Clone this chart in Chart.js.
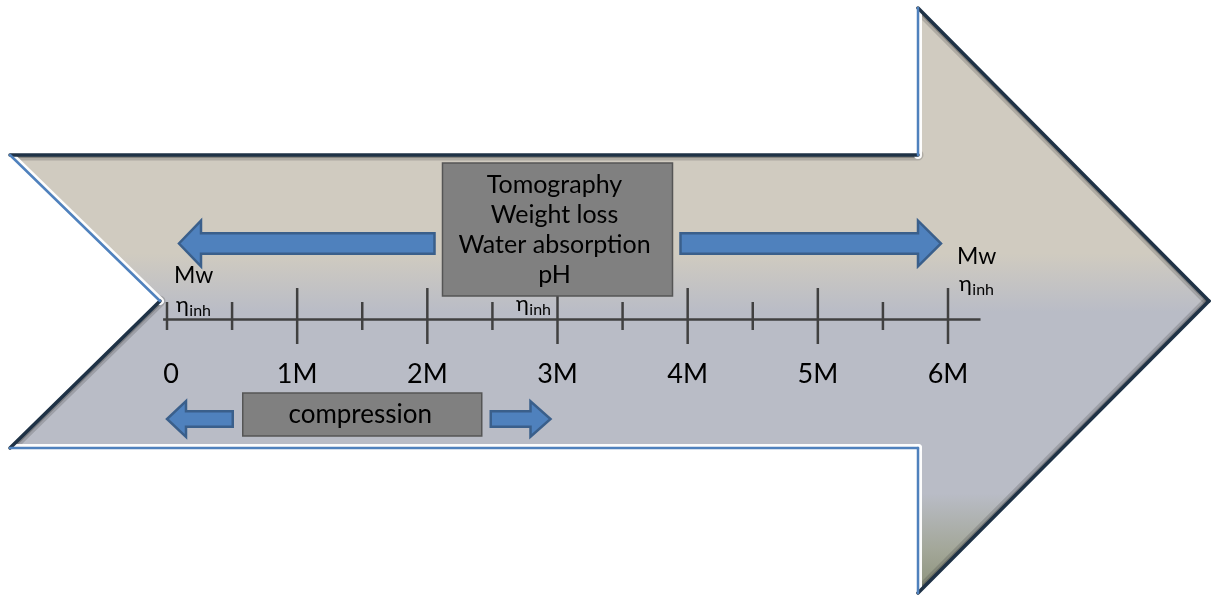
<!DOCTYPE html>
<html>
<head>
<meta charset="utf-8">
<title>Degradation tests timeline</title>
<script src="https://cdn.jsdelivr.net/npm/chart.js@4.4.1/dist/chart.umd.min.js"></script>
<style>
    html, body { margin: 0; padding: 0; background: #fff; }
    .wrap { position: relative; width: 1211px; height: 597px; }
</style>
</head>
<body>
<div class="wrap"><canvas id="timeline"></canvas></div>
<script>
// Time axis (months)
const majorTicks = [1, 2, 3, 4, 5, 6];
const minorTicks = [0, 0.5, 1.5, 2.5, 3.5, 4.5, 5.5];
const tickValues = [0, 1, 2, 3, 4, 5, 6];
const tickLabels = ['0', '1M', '2M', '3M', '4M', '5M', '6M'];
const axisRange = [-0.03, 6.25];

// Test periods
const testLines = ['Tomography', 'Weight loss', 'Water absorption', 'pH'];
const testSpan = [0, 6];
const compressionLabel = 'compression';
const compressionSpan = [0, 3];

// Where Mw and inherent viscosity are measured
const mwMarks = [0, 6];
const etaMarks = [0, 3, 6];

// Layout
const AXIS_Y = 322;
const TICK_Y = 318;
const FONT = 'Lato, "Noto Sans", sans-serif';

function blockArrow(ctx, tailX, tipX, cy, shaftHalf, headHalf, headLen) {
    const dir = Math.sign(tipX - tailX);
    const baseX = tipX - dir * headLen;
    ctx.beginPath();
    ctx.moveTo(tailX, cy - shaftHalf);
    ctx.lineTo(baseX, cy - shaftHalf);
    ctx.lineTo(baseX, cy - headHalf);
    ctx.lineTo(tipX, cy);
    ctx.lineTo(baseX, cy + headHalf);
    ctx.lineTo(baseX, cy + shaftHalf);
    ctx.lineTo(tailX, cy + shaftHalf);
    ctx.closePath();
    ctx.fillStyle = '#4f81bd';
    ctx.fill();
    ctx.lineWidth = 2.5;
    ctx.lineJoin = 'miter';
    ctx.strokeStyle = '#3a5f8b';
    ctx.stroke();
}

function grayBox(ctx, cx, top, w, h) {
    ctx.fillStyle = '#808080';
    ctx.fillRect(cx - w / 2, top, w, h);
    ctx.lineWidth = 1.5;
    ctx.strokeStyle = '#555555';
    ctx.strokeRect(cx - w / 2, top, w, h);
}

// η with "inh" subscript
function drawEta(ctx, x, y, align) {
    ctx.font = '22px ' + FONT;
    const w1 = ctx.measureText('η').width;
    ctx.font = '16px ' + FONT;
    const w2 = ctx.measureText('inh').width;
    const left = align === 'right' ? x - w1 - w2 : x;
    ctx.textAlign = 'left';
    ctx.fillStyle = '#000';
    ctx.font = '22px ' + FONT;
    ctx.fillText('η', left, y);
    ctx.font = '16px ' + FONT;
    ctx.fillText('inh', left + w1 + 0.5, y + 4);
}

function drawBigArrow(ctx) {
    const P = {
        A: [10, 155], B: [918, 155], C: [918, 8], D: [1209, 301],
        E: [918, 593], F: [918, 448], G: [10, 448], H: [160, 301]
    };
    const order = ['A', 'B', 'C', 'D', 'E', 'F', 'G', 'H'];
    const darkEdges = [['A', 'B'], ['C', 'D'], ['D', 'E'], ['G', 'H']];
    const lightEdges = [['B', 'C'], ['E', 'F'], ['F', 'G'], ['H', 'A']];
    const edge = (a, b) => {
        ctx.beginPath();
        ctx.moveTo(P[a][0], P[a][1]);
        ctx.lineTo(P[b][0], P[b][1]);
        ctx.stroke();
    };

    ctx.save();
    ctx.beginPath();
    order.forEach((k, i) => i ? ctx.lineTo(P[k][0], P[k][1]) : ctx.moveTo(P[k][0], P[k][1]));
    ctx.closePath();
    const g = ctx.createLinearGradient(0, 8, 0, 593);
    g.addColorStop(0, '#d0cbc0');
    g.addColorStop(0.42, '#d0cbc0');
    g.addColorStop(0.52, '#b9bcc6');
    g.addColorStop(0.83, '#b9bcc6');
    g.addColorStop(0.93, '#a2a697');
    g.addColorStop(1, '#8b9179');
    ctx.fillStyle = g;
    ctx.fill();

    // soft bevel inside the shape
    ctx.clip();
    ctx.lineCap = 'round';
    ctx.strokeStyle = 'rgba(60, 60, 60, 0.22)';
    ctx.lineWidth = 11;
    darkEdges.forEach(([a, b]) => edge(a, b));
    ctx.strokeStyle = 'rgba(50, 50, 50, 0.32)';
    ctx.lineWidth = 6;
    darkEdges.forEach(([a, b]) => edge(a, b));
    ctx.strokeStyle = 'rgba(255, 255, 255, 0.95)';
    ctx.lineWidth = 8;
    lightEdges.forEach(([a, b]) => edge(a, b));
    ctx.restore();

    // outline
    ctx.save();
    ctx.lineCap = 'round';
    ctx.strokeStyle = '#1f3246';
    ctx.lineWidth = 3.5;
    darkEdges.forEach(([a, b]) => edge(a, b));
    ctx.strokeStyle = '#4f81bd';
    ctx.lineWidth = 2.5;
    lightEdges.forEach(([a, b]) => edge(a, b));
    ctx.restore();
}

const diagramPlugin = {
    id: 'diagram',
    beforeDatasetsDraw(chart) {
        drawBigArrow(chart.ctx);
    },
    afterDatasetsDraw(chart) {
        const ctx = chart.ctx;
        const xs = chart.scales.x;
        const px = v => xs.getPixelForValue(v);
        ctx.save();

        // tick labels
        ctx.fillStyle = '#000';
        ctx.font = '27px ' + FONT;
        ctx.textAlign = 'center';
        ctx.textBaseline = 'alphabetic';
        tickValues.forEach((v, i) => ctx.fillText(tickLabels[i], px(v) + (i === 0 ? 4 : 0), 383));

        // degradation tests box with arrows to both ends of the span
        const testMid = px((testSpan[0] + testSpan[1]) / 2);
        const testW = 230;
        grayBox(ctx, testMid, 163, testW, 133);
        blockArrow(ctx, testMid - testW / 2 - 8, px(testSpan[0]) + 12, 243.5, 10.3, 22.8, 22);
        blockArrow(ctx, testMid + testW / 2 + 8, px(testSpan[1]) - 7, 243.5, 10.3, 22.8, 23);
        ctx.fillStyle = '#000';
        ctx.font = '25px ' + FONT;
        ctx.textAlign = 'center';
        testLines.forEach((t, i) => ctx.fillText(t, testMid - 3, 193 + i * 30));

        // compression box
        const compMid = px((compressionSpan[0] + compressionSpan[1]) / 2);
        const compW = 239;
        grayBox(ctx, compMid, 393, compW, 43);
        blockArrow(ctx, compMid - compW / 2 - 10, px(compressionSpan[0]) + 0, 419, 7.8, 17.8, 19);
        blockArrow(ctx, compMid + compW / 2 + 9, px(compressionSpan[1]) - 7, 419, 7.8, 17.8, 20);
        ctx.fillStyle = '#000';
        ctx.font = '26px ' + FONT;
        ctx.textAlign = 'center';
        ctx.fillText(compressionLabel, compMid - 2, 423);

        // Mw labels
        ctx.fillStyle = '#000';
        ctx.font = '23px ' + FONT;
        ctx.textAlign = 'left';
        mwMarks.forEach(v => {
            const atStart = v === testSpan[0];
            ctx.fillText('Mw', px(v) + (atStart ? 7 : 9), atStart ? 283 : 264);
        });

        // inherent viscosity labels
        etaMarks.forEach(v => {
            if (v === testSpan[0]) drawEta(ctx, px(v) + 9, 312, 'left');
            else if (v === testSpan[1]) drawEta(ctx, px(v) + 11, 291, 'left');
            else drawEta(ctx, px(v) - 7, 311, 'right');
        });

        ctx.restore();
    }
};

const tickStyle = {
    showLine: false,
    pointStyle: 'line',
    rotation: 90,
    borderColor: '#404040',
    pointBorderColor: '#404040',
    pointBorderWidth: 2.5,
    clip: false
};

new Chart(document.getElementById('timeline'), {
    type: 'scatter',
    data: {
        datasets: [
            {
                label: 'axis',
                data: axisRange.map(v => ({ x: v, y: AXIS_Y })),
                showLine: true,
                borderColor: '#404040',
                borderWidth: 2.5,
                pointRadius: 0,
                clip: false
            },
            {
                label: 'months',
                data: majorTicks.map(v => ({ x: v, y: TICK_Y })),
                pointRadius: 28,
                ...tickStyle
            },
            {
                label: 'half months',
                data: minorTicks.map(v => ({ x: v, y: TICK_Y })),
                pointRadius: 14,
                ...tickStyle
            }
        ]
    },
    options: {
        responsive: true,
        maintainAspectRatio: false,
        animation: false,
        events: [],
        layout: { padding: { left: 167, right: 263, top: 0, bottom: 0 } },
        plugins: {
            legend: { display: false },
            tooltip: { enabled: false }
        },
        scales: {
            x: { type: 'linear', min: 0, max: 6, display: false },
            y: { type: 'linear', min: 0, max: 597, reverse: true, display: false }
        }
    },
    plugins: [diagramPlugin]
});
</script>
</body>
</html>
